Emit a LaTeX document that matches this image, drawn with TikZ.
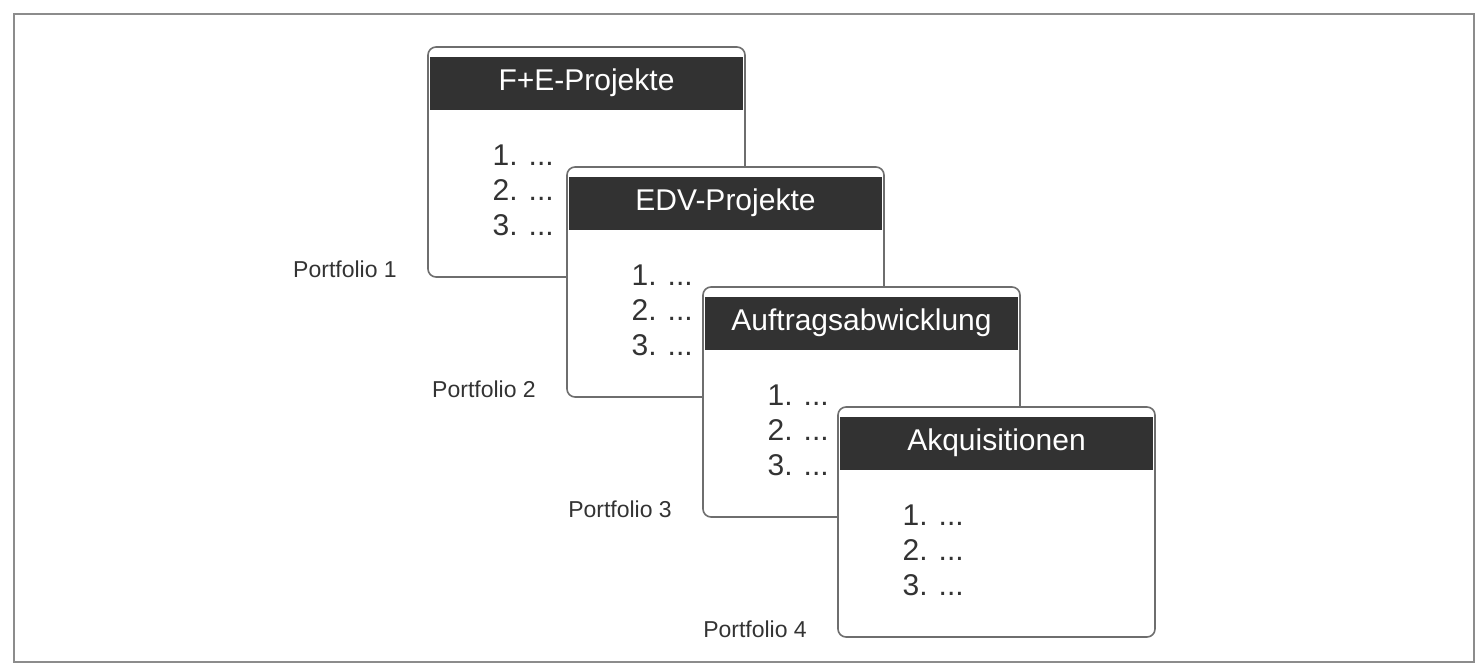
\documentclass[tikz,border=0pt]{standalone}
\usepackage{fontspec}
\setmainfont{Liberation Sans}
\usetikzlibrary{positioning, calc}
\definecolor{cardline}{RGB}{110, 110, 110}
\definecolor{headdark}{RGB}{50, 50, 50}
\definecolor{framegray}{RGB}{140, 140, 140}

\tikzset{
  card/.style={draw=cardline, line width=0.8pt, fill=white, rounded corners=4pt,
               minimum width=158.5pt, minimum height=115pt},
  head/.style={fill=headdark, text=white, minimum width=156.5pt, minimum height=26.5pt,
               inner sep=0pt, font=\fontsize{15}{18}\selectfont},
  items/.style={anchor=north west, align=left, inner sep=0pt, text=black!80,
                font=\fontsize{15}{17.5}\selectfont},
  plabel/.style={anchor=base east, inner sep=0pt, text=black!80,
                 font=\fontsize{11.5}{14}\selectfont}
}

\begin{document}
\begin{tikzpicture}[x=0.5pt, y=-0.5pt]
        \useasboundingbox (0,0) rectangle (1477,664);
        \draw[framegray, line width=0.9pt] (14,14) rectangle (1474,662);

        % Portfolio 1
        \node[card] (card1) at (586.5,162) {};
        \node[head] (head1) at ($(card1.north)+(0,37)$) {F+E-Projekte};
        \node[items] (list1) at ($(card1.north west)+(65,98)$) {1. ...\\2. ...\\3. ...};
        \node[plabel] (port1) at ($(card1.south west)+(-30,0)$) {Portfolio 1};

        % Portfolio 2
        \node[card] (card2) at (725.5,282) {};
        \node[head] (head2) at ($(card2.north)+(0,37)$) {EDV-Projekte};
        \node[items] (list2) at ($(card2.north west)+(65,98)$) {1. ...\\2. ...\\3. ...};
        \node[plabel] (port2) at ($(card2.south west)+(-30,0)$) {Portfolio 2};

        % Portfolio 3
        \node[card] (card3) at (861.5,402) {};
        \node[head] (head3) at ($(card3.north)+(0,37)$) {Auftragsabwicklung};
        \node[items] (list3) at ($(card3.north west)+(65,98)$) {1. ...\\2. ...\\3. ...};
        \node[plabel] (port3) at ($(card3.south west)+(-30,0)$) {Portfolio 3};

        % Portfolio 4
        \node[card] (card4) at (996.5,522) {};
        \node[head] (head4) at ($(card4.north)+(0,37)$) {Akquisitionen};
        \node[items] (list4) at ($(card4.north west)+(65,98)$) {1. ...\\2. ...\\3. ...};
        \node[plabel] (port4) at ($(card4.south west)+(-30,0)$) {Portfolio 4};
\end{tikzpicture}
\end{document}
